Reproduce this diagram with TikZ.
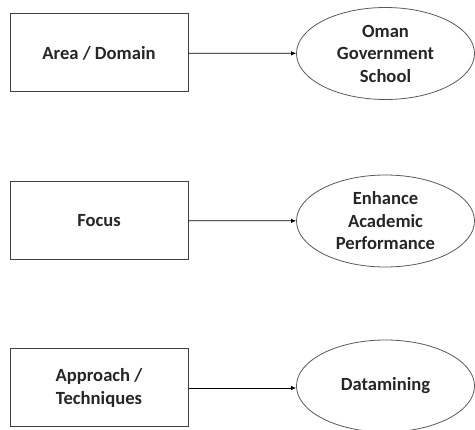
\documentclass[tikz,border=0pt]{standalone}
\usepackage{fontspec}
\setmainfont{Carlito}
\usetikzlibrary{shapes.geometric,arrows.meta}
\begin{document}
\begin{tikzpicture}[x=1pt,y=-1pt,
  box/.style={draw=black!75,line width=1pt,minimum width=178pt,minimum height=78pt,inner sep=0pt,
    font=\fontsize{18.6}{22.5}\selectfont\bfseries,text=black!85,align=center},
  oval/.style={ellipse,draw=black!65,line width=0.8pt,minimum width=178pt,minimum height=92pt,inner sep=0pt,
    font=\fontsize{18.6}{22.5}\selectfont\bfseries,text=black!85,align=center},
  link/.style={draw=black,line width=0.8pt,-{Latex[length=5pt,width=4.5pt]}}]
\useasboundingbox (0,0) rectangle (475,430);
\node[box] (b1) at (99,53) {Area / Domain};
\node[box] (b2) at (99,220.5) {Focus};
\node[box] (b3) at (99,388) {Approach /\\Techniques};
\node[oval] (e1) at (385.5,53.5) {Oman\\Government\\School};
\node[oval] (e2) at (385.5,221) {Enhance\\Academic\\Performance};
\node[oval] (e3) at (385.5,386) {Datamining};
\draw[link] (b1) -- (e1);
\draw[link] (b2) -- (e2);
\draw[link] (b3.east) -- (b3.east -| e3.west);
\end{tikzpicture}
\end{document}
